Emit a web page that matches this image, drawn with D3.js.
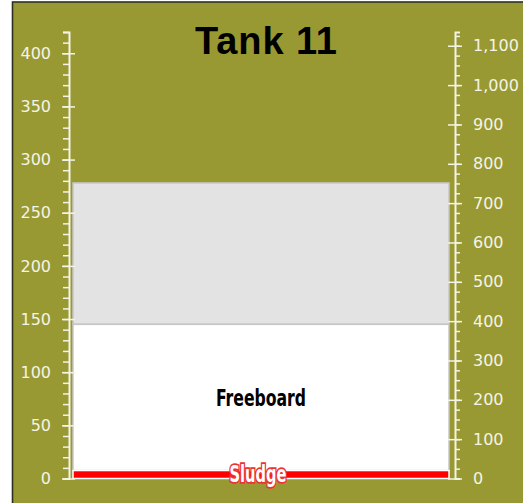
<!DOCTYPE html>
<html>
<head>
<meta charset="utf-8">
<script src="https://cdnjs.cloudflare.com/ajax/libs/d3/7.8.5/d3.min.js"></script>
<style>
  body { margin: 0; background: #fff; }
  .axis text { font-family: "DejaVu Sans", Verdana, sans-serif; font-size: 16px; fill: #f4f4e6; }
  .axis line, .axis path { stroke: #f4f4e6; }
</style>
</head>
<body>
<div id="chart"></div>
<script>
// tank levels (left axis units), stacked from the bottom
var categories = ["Tank 11"];
var layerNames = ["Sludge", "Freeboard", "Headspace"];
var layerValues = [7.5, 137.5, 133];
var layerColors = ["#ff0000", "#ffffff", "#e3e3e3"];
var labelledLayers = ["Sludge", "Freeboard"];

var leftMax = 420, rightMax = 1135;
var leftTicks = [0, 50, 100, 150, 200, 250, 300, 350, 400];
var rightTicks = [0, 100, 200, 300, 400, 500, 600, 700, 800, 900, 1000, 1100];

var fullwidth = 523, fullheight = 503;

var svg = d3.select("#chart")
    .append("svg")
    .attr("width", fullwidth)
    .attr("height", fullheight);

// panel background with dark edge
svg.append("rect")
    .attr("x", 12.5).attr("y", 2)
    .attr("width", 600).attr("height", 600)
    .style("fill", "#999933")
    .style("stroke", "#2e2e22")
    .style("stroke-width", 1.6);

var xScale = d3.scaleBand()
    .domain(categories)
    .range([73, 449])
    .padding(0);

var yLeft = d3.scaleLinear().domain([0, leftMax]).range([478.5, 32]);
var yRight = d3.scaleLinear().domain([0, rightMax]).range([478.5, 32]);

// stacked layers
var stack = [];
var base = 0;
layerValues.forEach(function(v, i) {
    stack.push({name: layerNames[i], y0: base, y1: base + v, color: layerColors[i]});
    base += v;
});

var barHolder = svg.append("g").classed("bar-holder", true);

barHolder.selectAll("rect.layer")
    .data(stack.slice().reverse())
    .enter().append("rect")
    .classed("layer", true)
    .attr("x", function(d) { return xScale(categories[0]); })
    .attr("width", xScale.bandwidth())
    .attr("y", function(d) { return yLeft(d.y1); })
    .attr("height", function(d) { return yLeft(d.y0) - yLeft(d.y1); })
    .style("fill", function(d) { return d.color; })
    .style("stroke", function(d) { return d.name == "Sludge" ? "#ffffff" : "#c6c6c6"; })
    .style("stroke-width", 1.5);

// left axis: minor then major
var leftMinor = svg.append("g").classed("axis", true)
    .attr("transform", "translate(69,0)")
    .call(d3.axisLeft(yLeft).tickValues(d3.range(0, leftMax + 1, 10)).tickSize(6).tickFormat(""));
leftMinor.selectAll("line").style("stroke-width", 1.5);
leftMinor.select(".domain").style("stroke-width", 2);

var leftMajor = svg.append("g").classed("axis", true)
    .attr("transform", "translate(69,0)")
    .call(d3.axisLeft(yLeft).tickValues(leftTicks).tickSize(6).tickPadding(12));
leftMajor.select(".domain").remove();
leftMajor.selectAll("line").attr("x2", -7).attr("x1", 6).style("stroke-width", 1.5);

// right axis
var rightMinor = svg.append("g").classed("axis", true)
    .attr("transform", "translate(455,0)")
    .call(d3.axisRight(yRight).tickValues(d3.range(0, rightMax, 25)).tickSize(5).tickFormat(""));
rightMinor.selectAll("line").style("stroke-width", 1.5);
rightMinor.select(".domain").style("stroke-width", 2);

var rightMajor = svg.append("g").classed("axis", true)
    .attr("transform", "translate(455,0)")
    .call(d3.axisRight(yRight).tickValues(rightTicks).tickSize(7).tickPadding(11).tickFormat(d3.format(",")));
rightMajor.select(".domain").remove();
rightMajor.selectAll("line").attr("x1", -7).style("stroke-width", 1.5);

// title
svg.append("text")
    .attr("x", 266)
    .attr("y", 54)
    .style("text-anchor", "middle")
    .style("font-family", "'Liberation Sans', Arial, sans-serif")
    .style("font-weight", "bold")
    .style("font-size", "38px")
    .attr("textLength", 142)
    .style("fill", "#000")
    .text(categories[0]);

// segment labels
var labelled = stack.filter(function(d) { return labelledLayers.indexOf(d.name) >= 0; });
svg.selectAll("text.seg")
    .data(labelled)
    .enter().append("text")
    .classed("seg", true)
    .attr("x", function(d) { return xScale(categories[0]) + xScale.bandwidth() / 2 + (d.name == "Sludge" ? -3 : 0); })
    .attr("y", function(d) { return (yLeft(d.y0) + yLeft(d.y1)) / 2; })
    .attr("dy", function(d) { return d.name == "Sludge" ? "0.33em" : "0.38em"; })
    .style("text-anchor", "middle")
    .style("font-family", "'DejaVu Sans Condensed', 'DejaVu Sans', sans-serif")
    .style("font-size", "23px")
    .style("font-weight", "bold")
    .attr("textLength", function(d) { return d.name == "Sludge" ? 57 : 90; })
    .attr("lengthAdjust", "spacingAndGlyphs")
    .style("fill", function(d) { return d.name == "Sludge" ? "#ffffff" : "#000000"; })
    .style("stroke", function(d) { return d.name == "Sludge" ? "#ee3333" : "none"; })
    .style("stroke-width", 3.5)
    .style("paint-order", "stroke")
    .text(function(d) { return d.name; });
</script>
</body>
</html>
